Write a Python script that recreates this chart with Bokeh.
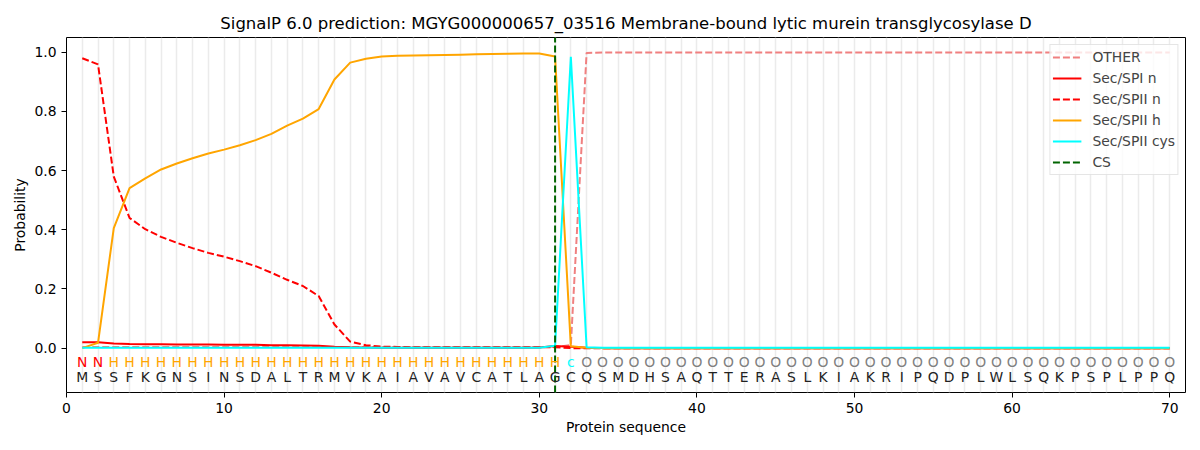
from bokeh.plotting import figure
from bokeh.models import FixedTicker, Legend, LegendItem, ColumnDataSource, Range1d, CustomJSTickFormatter
from bokeh.core.properties import value
from bokeh.embed import file_html
from bokeh.resources import INLINE

sequence = list("MSSFKGNSINSDALTRMVKAIAVAVCATLAGCQSMDHSAQTTERASLKIAKRIPQDPLWLSQKPSPLPPQ")
region_labels = ["N", "N"] + ["H"] * 29 + ["c"] + ["O"] * 38
positions = list(range(1, len(sequence) + 1))

other = [0.004] * 31 + [0.010, 0.998] + [0.999] * 37
sec_spi_n = [0.020, 0.020, 0.016, 0.014, 0.013, 0.013, 0.012, 0.012, 0.012, 0.011,
             0.011, 0.011, 0.010, 0.010, 0.009, 0.008, 0.005, 0.003, 0.002, 0.001,
             0.001, 0.001, 0.001, 0.001, 0.001, 0.001, 0.001, 0.001, 0.001, 0.002,
             0.007, 0.005, 0.001] + [0.0] * 37
sec_spii_n = [0.980, 0.959, 0.580, 0.440, 0.402, 0.376, 0.356, 0.338, 0.322, 0.309,
              0.294, 0.277, 0.255, 0.231, 0.210, 0.176, 0.080, 0.022, 0.010, 0.005,
              0.004, 0.003, 0.003, 0.003, 0.003, 0.003, 0.003, 0.003, 0.003, 0.003,
              0.003, 0.000] + [0.0] * 38
sec_spii_h = [0.000, 0.018, 0.406, 0.541, 0.574, 0.604, 0.624, 0.642, 0.658, 0.671,
              0.686, 0.703, 0.724, 0.752, 0.776, 0.808, 0.908, 0.965, 0.978, 0.986,
              0.988, 0.989, 0.990, 0.991, 0.992, 0.993, 0.994, 0.995, 0.996, 0.996,
              0.986, 0.006, 0.001] + [0.0] * 37
sec_spii_cys = [0.001] * 30 + [0.008, 0.985, 0.003] + [0.001] * 37
cs_position = 31

x_ticks = [0, 10, 20, 30, 40, 50, 60, 70]
y_ticks = [0.0, 0.2, 0.4, 0.6, 0.8, 1.0]
y_lo, y_hi = -0.15, 1.05

label_colors = {"N": "red", "H": "orange", "c": "cyan", "O": "gray"}

FONT = "DejaVu Sans"
FS = "13.9px"

p = figure(width=1192, height=442, output_backend="svg", toolbar_location=None,
           x_range=Range1d(0, 71), y_range=Range1d(y_lo, y_hi),
           min_border_left=66, min_border_right=7, min_border_top=37, min_border_bottom=50,
           title="SignalP 6.0 prediction: MGYG000000657_03516 Membrane-bound lytic murein transglycosylase D")
p.title.align = "center"
p.title.text_font = FONT
p.title.text_font_size = "16.5px"
p.title.text_font_style = "normal"
p.title.text_color = "black"

p.outline_line_color = "black"
p.outline_line_width = 1
p.ygrid.visible = False
p.xgrid.ticker = FixedTicker(ticks=positions)
p.xgrid.grid_line_color = "#ebebeb"
p.xgrid.grid_line_width = 1.5

for ax in (p.xaxis[0], p.yaxis[0]):
    ax.major_label_text_font = FONT
    ax.major_label_text_font_size = FS
    ax.major_label_text_color = "black"
    ax.axis_label_text_font = FONT
    ax.axis_label_text_font_size = FS
    ax.axis_label_text_font_style = "normal"
    ax.axis_label_text_color = "black"
    ax.major_tick_in = 0
    ax.major_tick_out = 5
    ax.minor_tick_in = 0
    ax.minor_tick_out = 0
    ax.axis_line_color = None
    ax.major_tick_line_color = "black"
p.xaxis.ticker = FixedTicker(ticks=x_ticks)
p.yaxis.ticker = FixedTicker(ticks=y_ticks)
p.yaxis.formatter = CustomJSTickFormatter(code="return tick.toFixed(1);")
p.xaxis.axis_label = "Protein sequence"
p.yaxis.axis_label = "Probability"
p.xaxis.axis_label_standoff = 3
p.yaxis.axis_label_standoff = 3

dash = "7 3"
r_other = p.line(positions, other, line_color="#f08080", line_width=2, line_dash=dash)
r_spi_n = p.line(positions, sec_spi_n, line_color="red", line_width=2)
r_spii_n = p.line(positions, sec_spii_n, line_color="red", line_width=2, line_dash=dash)
r_spii_h = p.line(positions, sec_spii_h, line_color="orange", line_width=2)
r_cys = p.line(positions, sec_spii_cys, line_color="cyan", line_width=2)
r_cs = p.line([cs_position, cs_position], [y_lo, y_hi], line_color="darkgreen", line_width=2, line_dash=dash)

src_lab = ColumnDataSource(dict(x=positions, y=[-0.047] * len(positions), t=region_labels,
                                c=[label_colors[l] for l in region_labels]))
p.text(x="x", y="y", text="t", text_color="c", source=src_lab, text_align="center",
       text_baseline="middle", text_font=value(FONT), text_font_size=FS)
src_seq = ColumnDataSource(dict(x=positions, y=[-0.098] * len(positions), t=sequence))
p.text(x="x", y="y", text="t", text_color="#222222", source=src_seq, text_align="center",
       text_baseline="middle", text_font=value(FONT), text_font_size=FS)

legend = Legend(items=[
    LegendItem(label="OTHER", renderers=[r_other]),
    LegendItem(label="Sec/SPI n", renderers=[r_spi_n]),
    LegendItem(label="Sec/SPII n", renderers=[r_spii_n]),
    LegendItem(label="Sec/SPII h", renderers=[r_spii_h]),
    LegendItem(label="Sec/SPII cys", renderers=[r_cys]),
    LegendItem(label="CS", renderers=[r_cs]),
], location="top_right")
legend.label_text_font = FONT
legend.label_text_font_size = FS
legend.glyph_width = 29
legend.glyph_height = 20
legend.spacing = 1
legend.padding = 2
legend.margin = 7
legend.label_standoff = 11
legend.border_line_color = "#cccccc"
legend.background_fill_alpha = 0.8
p.add_layout(legend)

open("out.html", "w").write(file_html(p, INLINE))
